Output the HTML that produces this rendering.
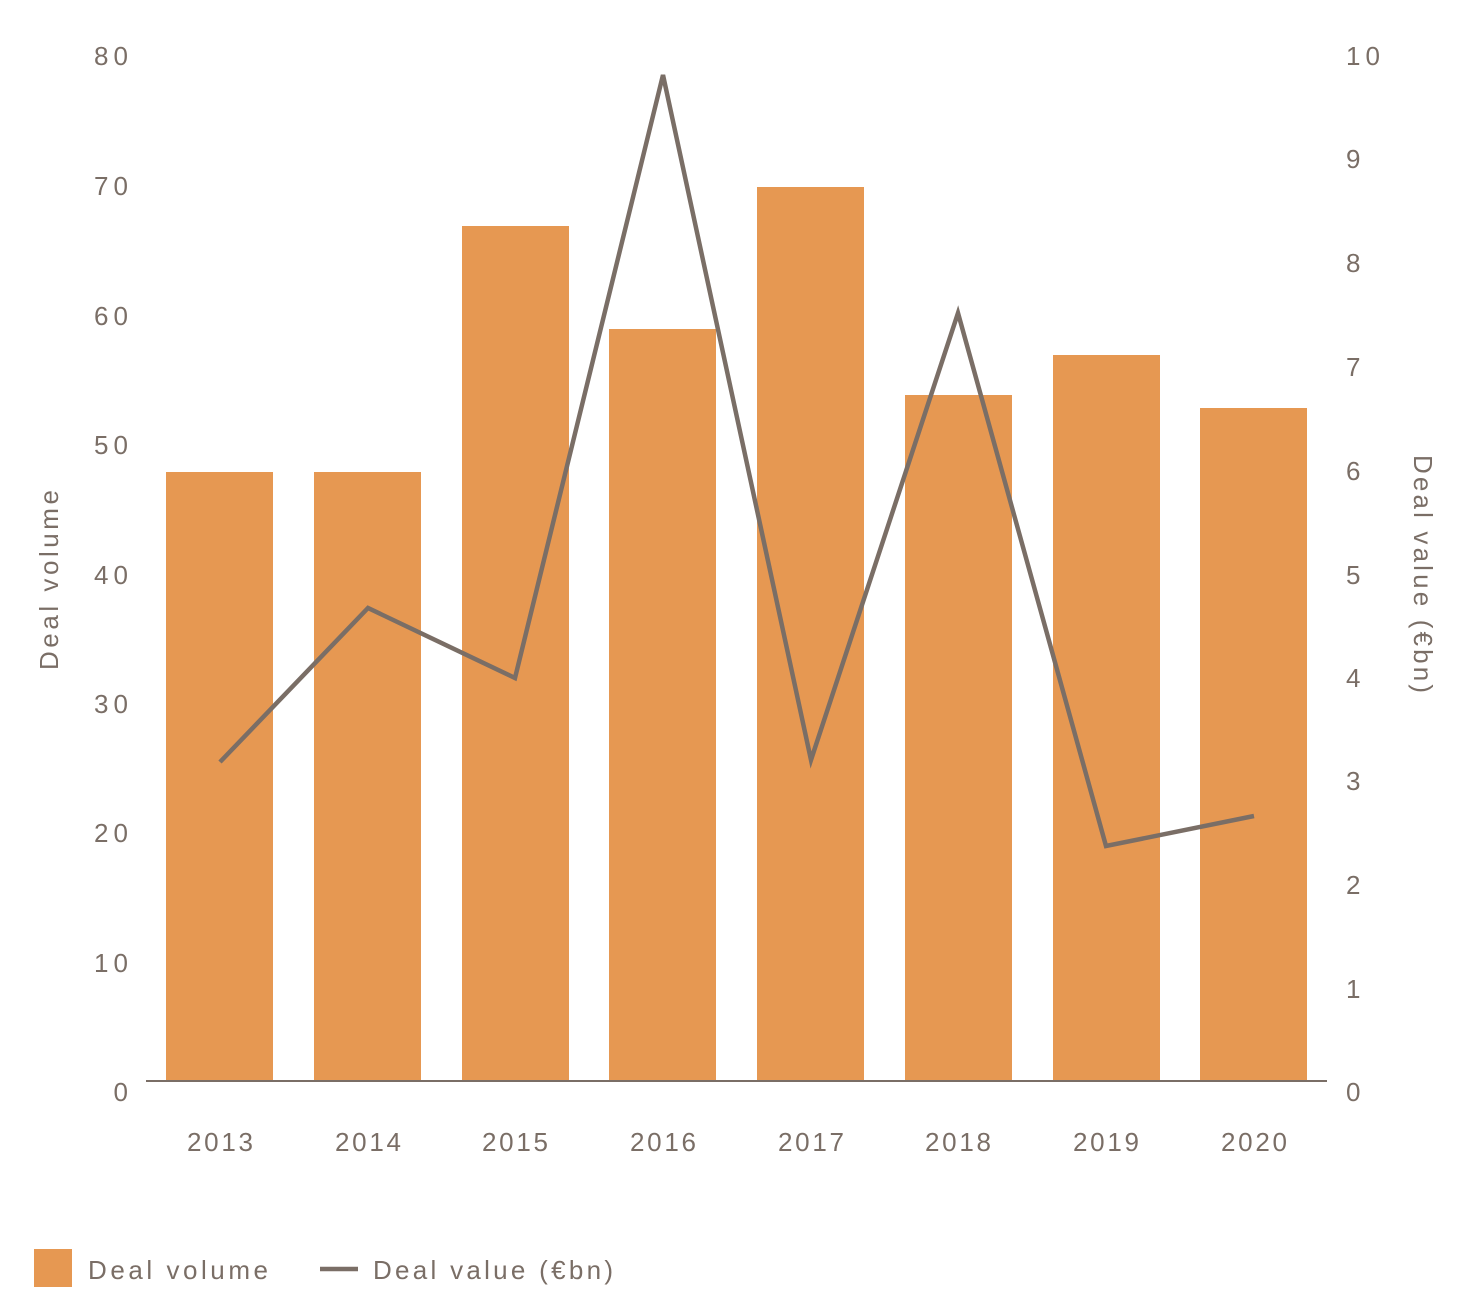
<!DOCTYPE html>
<html><head><meta charset="utf-8"><style>
html,body{margin:0;padding:0;background:#fff;}
svg{display:block;}
text{font-family:"Liberation Sans",sans-serif;fill:#7a6e66;font-size:26px;}
</style></head><body>
<svg width="1470" height="1308" viewBox="0 0 1470 1308" xmlns="http://www.w3.org/2000/svg">
<g fill="#e69852">
<rect x="166" y="472" width="107" height="609"/>
<rect x="314" y="472" width="107" height="609"/>
<rect x="462" y="226" width="107" height="855"/>
<rect x="609" y="329" width="107" height="752"/>
<rect x="757" y="187" width="107" height="894"/>
<rect x="905" y="395" width="107" height="686"/>
<rect x="1053" y="355" width="107" height="726"/>
<rect x="1200" y="408" width="107" height="673"/>
</g>
<line x1="146" y1="1081" x2="1327" y2="1081" stroke="#7a6e66" stroke-width="2"/>
<polyline fill="none" stroke="#7a6e66" stroke-width="4.5" stroke-linejoin="miter" points="220,762 368,608 515,678 663,75 811,760 958,313 1106,846 1254,816"/>
<g text-anchor="end">
<text x="128" y="1101">0</text>
<text x="128" y="972" textLength="34">10</text>
<text x="128" y="842" textLength="34">20</text>
<text x="128" y="713" textLength="34">30</text>
<text x="128" y="584" textLength="34">40</text>
<text x="128" y="454" textLength="34">50</text>
<text x="128" y="325" textLength="34">60</text>
<text x="128" y="195" textLength="34">70</text>
<text x="128" y="65" textLength="34">80</text>
</g>
<g text-anchor="start">
<text x="1346" y="1101">0</text>
<text x="1346" y="998">1</text>
<text x="1346" y="894">2</text>
<text x="1346" y="790">3</text>
<text x="1346" y="687">4</text>
<text x="1346" y="584">5</text>
<text x="1346" y="480">6</text>
<text x="1346" y="376">7</text>
<text x="1346" y="272">8</text>
<text x="1346" y="168">9</text>
<text x="1346" y="65" textLength="34">10</text>
</g>
<g>
<text x="187" y="1151" textLength="66">2013</text>
<text x="335" y="1151" textLength="66">2014</text>
<text x="482" y="1151" textLength="66">2015</text>
<text x="630" y="1151" textLength="66">2016</text>
<text x="778" y="1151" textLength="66">2017</text>
<text x="925" y="1151" textLength="66">2018</text>
<text x="1073" y="1151" textLength="66">2019</text>
<text x="1221" y="1151" textLength="66">2020</text>
</g>
<text transform="translate(58,670) rotate(-90)" textLength="180">Deal volume</text>
<text transform="translate(1414,455) rotate(90)" textLength="238">Deal value (€bn)</text>
<rect x="34" y="1249" width="38" height="38" fill="#e69852"/>
<text x="88" y="1279" textLength="180">Deal volume</text>
<line x1="320" y1="1269" x2="358" y2="1269" stroke="#7a6e66" stroke-width="4.5"/>
<text x="373" y="1279" textLength="240">Deal value (€bn)</text>
</svg>
</body></html>
